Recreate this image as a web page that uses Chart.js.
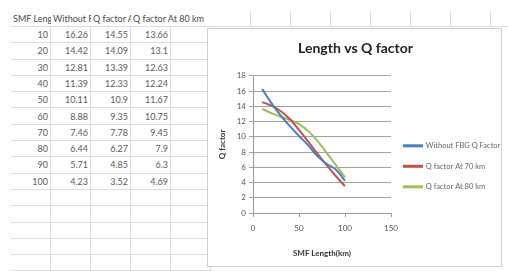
<!DOCTYPE html>
<html>
<head>
<meta charset="utf-8">
<script src="https://cdn.jsdelivr.net/npm/chart.js@4.4.1/dist/chart.umd.min.js"></script>
<style>
  body { margin: 0; width: 508px; height: 271px; overflow: hidden; background: #fff; font-family: Lato, "Liberation Sans", sans-serif; }
  #sheet { position: absolute; left: 0; top: 0; width: 508px; height: 271px; }
  .cell { position: absolute; box-sizing: border-box; border-right: 1px solid #dcdcdc; border-bottom: 1px solid #dcdcdc;
          font-size: 9px; color: #5a5a5a; white-space: nowrap; overflow: hidden; padding: 0 2px; text-align: right; }
  .head { text-align: left; color: #4a4a4a; padding-left: 2px; padding-right: 2px; border-right: none; }
  #box { position: absolute; left: 207px; top: 28px; width: 295px; height: 239px; box-sizing: border-box; border: 1px solid #cfcfcf; background: #fff; }
  #chart { position: absolute; left: 1px; top: 1px; }
</style>
</head>
<body>
<div id="sheet"></div>
<div id="box"><canvas id="chart" width="293" height="237"></canvas></div>
<script>
const lengths = [10, 20, 30, 40, 50, 60, 70, 80, 90, 100];
const withoutFbg = [16.26, 14.42, 12.81, 11.39, 10.11, 8.88, 7.46, 6.44, 5.71, 4.23];
const qAt70 = [14.55, 14.09, 13.39, 12.33, 10.9, 9.35, 7.78, 6.27, 4.85, 3.52];
const qAt80 = [13.66, 13.1, 12.63, 12.24, 11.67, 10.75, 9.45, 7.9, 6.3, 4.69];
const headers = ["SMF Length(km)", "Without FBG Q Factor", "Q factor At 70 km", "Q factor At 80 km"];
const xTicks = [0, 50, 100, 150];
const yTicks = [0, 2, 4, 6, 8, 10, 12, 14, 16, 18];

// Montar a grade da planilha
const sheet = document.getElementById('sheet');
const colW = 40, colX0 = 11, rowH = 16.3, rowY0 = 27;
function addCell(x, y, w, h, text, cls) {
    const d = document.createElement('div');
    d.className = 'cell' + (cls ? ' ' + cls : '');
    d.style.left = x + 'px'; d.style.top = y + 'px';
    d.style.width = w + 'px'; d.style.height = h + 'px';
    d.style.lineHeight = h + 'px';
    d.textContent = text;
    sheet.appendChild(d);
}
// linha de cabeçalho
for (let c = 0; c < 13; c++) {
    const x = colX0 + c * colW;
    if (c < 3) addCell(x, 11, colW, 16, headers[c], 'head');
    else if (c === 3) addCell(x, 11, colW * 2, 16, headers[3], 'head');
    else if (c > 4) addCell(x, 11, colW, 16, '', '');
}
// linhas de dados + vazias
const cols = [lengths, withoutFbg, qAt70, qAt80];
for (let r = 0; r < 15; r++) {
    const y = rowY0 + r * rowH;
    for (let c = 0; c < 5; c++) {
        const v = (c < 4 && r < lengths.length) ? String(cols[c][r]) : '';
        addCell(colX0 + c * colW, y, colW, rowH, v, '');
    }
}

const font = "Lato, 'Liberation Sans', sans-serif";
const series = [
    { label: headers[1], values: withoutFbg, color: '#4a7ec0' },
    { label: headers[2], values: qAt70, color: '#c64f4c' },
    { label: headers[3], values: qAt80, color: '#9dbf59' }
];

new Chart(document.getElementById('chart').getContext('2d'), {
    type: 'scatter',
    data: {
        datasets: series.map(s => ({
            label: s.label,
            data: lengths.map((x, i) => ({ x: x, y: s.values[i] })),
            showLine: true,
            borderColor: s.color,
            backgroundColor: s.color,
            borderWidth: 2,
            pointRadius: 0,
            tension: 0.3
        }))
    },
    options: {
        responsive: false,
        animation: false,
        layout: { padding: { left: 0, right: 0, top: 0, bottom: 0 } },
        plugins: {
            title: {
                display: true,
                text: 'Length vs Q factor',
                color: '#222',
                font: { family: font, size: 14, weight: 'bold' },
                padding: { top: 10, bottom: 19 }
            },
            legend: {
                position: 'right',
                maxWidth: 111,
                // titulo vazio so para empurrar os itens para baixo
                title: { display: true, text: ' ', font: { size: 8 }, padding: { top: 0, bottom: 26 } },
                labels: {
                    color: '#666',
                    font: { family: font, size: 7.5 },
                    boxWidth: 18,
                    boxHeight: 1,
                    padding: 13
                }
            },
            tooltip: { enabled: false }
        },
        scales: {
            x: {
                type: 'linear',
                min: 0, max: 150,
                afterBuildTicks: (axis) => { axis.ticks = xTicks.map(v => ({ value: v })); },
                afterFit: (axis) => { axis.height = 54; },
                grid: { display: true, drawOnChartArea: false, color: '#999', tickLength: 4 },
                border: { color: '#999' },
                ticks: { color: '#555', font: { family: font, size: 8 }, padding: 7, maxRotation: 0 },
                title: { display: true, text: 'SMF Length(km)', color: '#333', font: { family: font, size: 8, weight: 'bold' }, padding: { top: 0, bottom: 9 } }
            },
            y: {
                min: 0, max: 18,
                afterBuildTicks: (axis) => { axis.ticks = yTicks.map(v => ({ value: v })); },
                afterFit: (axis) => { axis.width = 44; },
                grid: { color: '#a0a0a0', tickLength: 4 },
                border: { color: '#999' },
                ticks: { color: '#555', font: { family: font, size: 8 }, padding: 3 },
                title: { display: true, text: 'Q factor', color: '#333', font: { family: font, size: 8, weight: 'bold' }, padding: { top: 9, bottom: 0 } }
            }
        }
    }
});
</script>
</body>
</html>
